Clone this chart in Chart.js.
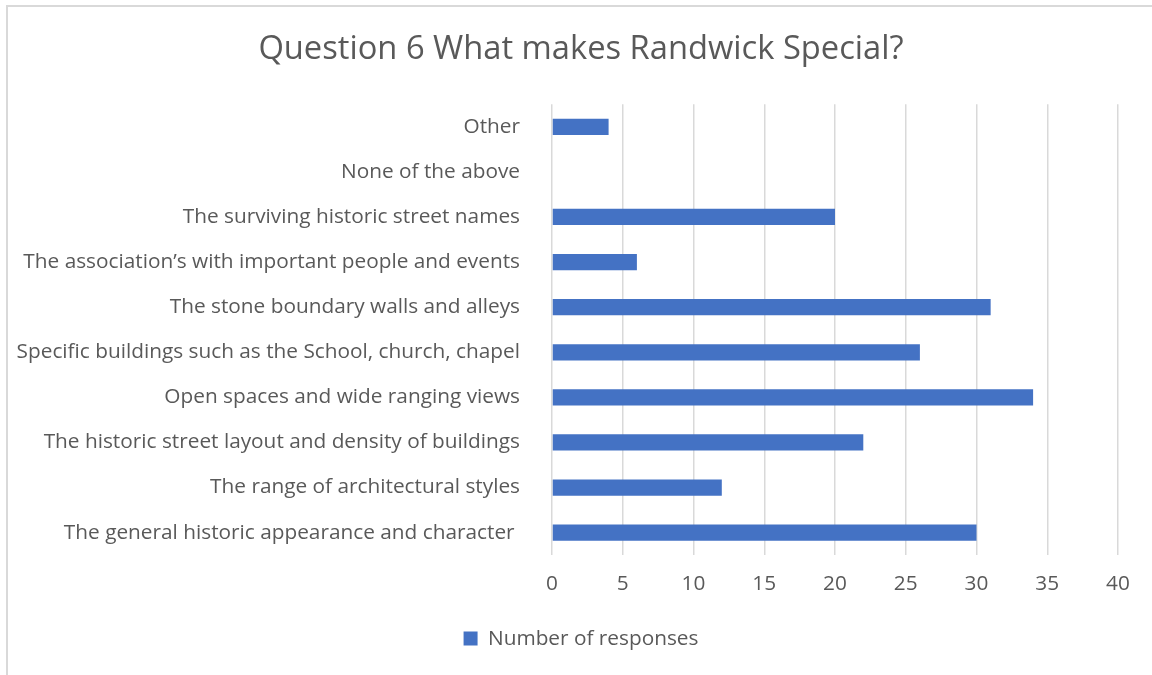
<!DOCTYPE html>
<html>
<head>
<meta charset="utf-8">
<script src="https://cdn.jsdelivr.net/npm/chart.js@4.4.0/dist/chart.umd.min.js"></script>
<style>
  html, body { margin: 0; padding: 0; background: #fff; overflow: hidden; }
  #frame { position: absolute; left: 6px; top: 5px; width: 1200px; height: 700px;
           border-left: 2px solid #d9d9d9; border-top: 2px solid #d9d9d9; }
  #wrap { position: absolute; left: 0; top: 0; width: 1152px; height: 675px; }
</style>
</head>
<body>
<div id="frame"></div>
<div id="wrap"><canvas id="chart"></canvas></div>
<script>
// Categories, top to bottom as in the picture
const categories = [
  'Other',
  'None of the above',
  'The surviving historic street names',
  'The association\u2019s with important people and events',
  'The stone boundary walls and alleys',
  'Specific buildings such as the School, church, chapel',
  'Open spaces and wide ranging views',
  'The historic street layout and density of buildings',
  'The range of architectural styles',
  'The general historic appearance and character '
];
const responses = [4, 0, 20, 6, 31, 26, 34, 22, 12, 30];
const xTicks = [0, 5, 10, 15, 20, 25, 30, 35, 40];

const fontFamily = '"Open Sans", sans-serif';
const textColor = '#595959';

document.addEventListener('DOMContentLoaded', function() {
    const ctx = document.getElementById('chart');
    new Chart(ctx, {
        type: 'bar',
        data: {
            labels: categories,
            datasets: [{
                label: 'Number of responses',
                data: responses,
                backgroundColor: '#4472C4',
                barPercentage: 0.72,
                categoryPercentage: 0.5
            }]
        },
        options: {
            indexAxis: 'y',
            responsive: true,
            maintainAspectRatio: false,
            animation: false,
            layout: { padding: { left: 10, right: 0, top: 10, bottom: 16 } },
            plugins: {
                title: {
                    display: true,
                    text: 'Question 6 What makes Randwick Special?',
                    color: textColor,
                    font: { family: fontFamily, size: 32.7, weight: 'normal' },
                    padding: { top: 20, bottom: 35 }
                },
                legend: {
                    position: 'bottom',
                    labels: {
                        color: textColor,
                        font: { family: fontFamily, size: 20.8 },
                        boxWidth: 14,
                        boxHeight: 14,
                        padding: 8
                    }
                },
                tooltip: { enabled: false }
            },
            scales: {
                x: {
                    min: 0,
                    max: 40,
                    afterBuildTicks: function(axis) {
                        axis.ticks = xTicks.map(v => ({ value: v }));
                    },
                    afterFit: function(axis) { axis.height = 65; },
                    grid: { color: '#d9d9d9', lineWidth: 1.5, drawTicks: false },
                    border: { display: false },
                    ticks: {
                        color: textColor,
                        font: { family: fontFamily, size: 20.8 },
                        padding: 16
                    }
                },
                y: {
                    grid: { display: false },
                    border: { display: false },
                    afterFit: function(axis) { axis.width = 542; },
                    ticks: {
                        color: textColor,
                        font: { family: fontFamily, size: 20.8 },
                        padding: 24,
                        autoSkip: false
                    }
                },
                // empty right-hand box, keeps the plot edge at 40 while the title stays centred
                yRight: {
                    axis: 'y',
                    position: 'right',
                    grid: { display: false },
                    border: { display: false },
                    ticks: { display: false },
                    afterFit: function(axis) { axis.width = 34; }
                }
            }
        }
    });
});
</script>
</body>
</html>
